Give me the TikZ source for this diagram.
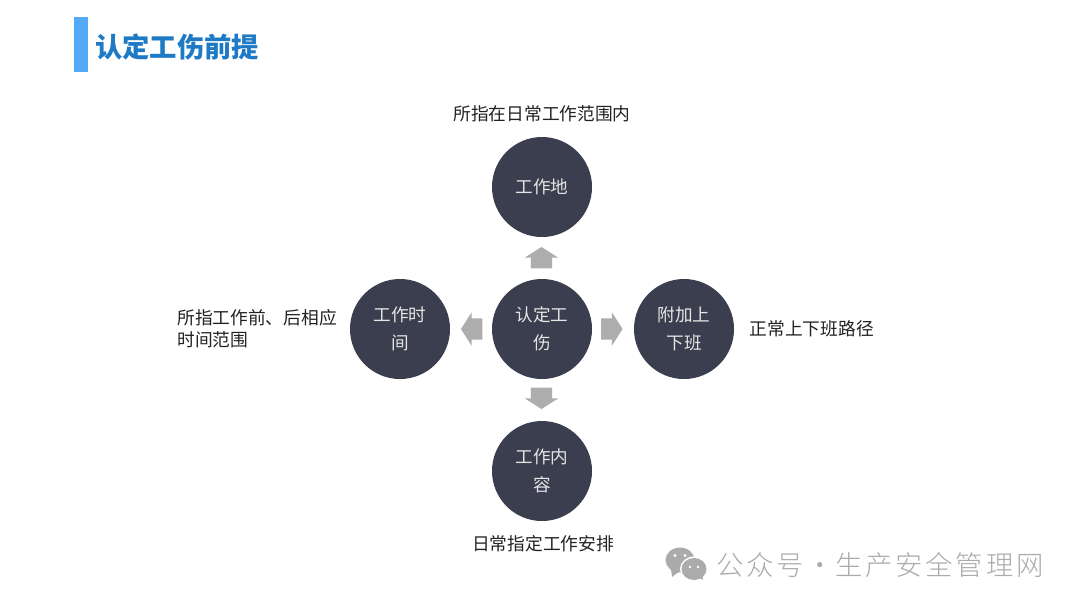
\documentclass[tikz,border=0pt]{standalone}
\usepackage{fontspec}
\usetikzlibrary{shapes.arrows}
\setmainfont{Noto Sans CJK SC}
\newfontfamily\wmfont[LetterSpace=10]{Noto Sans CJK SC Light}
\definecolor{circlefill}{HTML}{3B3E4E}
\definecolor{titleblue}{HTML}{1F7AC6}
\definecolor{barblue}{HTML}{52A9F6}
\definecolor{arrowgrey}{HTML}{ADADAD}
\definecolor{labeltext}{HTML}{222222}
\definecolor{wmgrey}{HTML}{ABABAB}
\tikzset{
  x=0.75pt,y=-0.75pt,
  hub/.style={circle,fill=circlefill,draw=none,minimum size=75pt,inner sep=0pt,text=white!90!black,
    align=center,font=\fontsize{13.2pt}{21pt}\selectfont},
  note/.style={inner sep=0pt,text=labeltext,font=\fontsize{13.3pt}{16.5pt}\selectfont},
  blockarrow/.style={single arrow,fill=arrowgrey,draw=none,inner sep=0pt,
    minimum height=16pt,minimum width=24.5pt,single arrow head extend=4.5pt,
    single arrow tip angle=115},
}
\newcommand{\shaftwidth}{\rule{0pt}{15.5pt}}
\begin{document}
\begin{tikzpicture}
\useasboundingbox (0,0) rectangle (1080,608);
\fill[white] (0,0) rectangle (1080,608);
\fill[barblue] (74,17) rectangle (88,72);
\node[inner sep=0pt,text=titleblue,font=\fontsize{20.5pt}{24pt}\selectfont\bfseries] (title) at (177,47) {认定工伤前提};
% circles
\node[hub] (center) at (542,329) {认定工\\伤};
\node[hub] (top) at (542,187) {工作地};
\node[hub] (left) at (400,329) {工作时\\间};
\node[hub] (right) at (684,329) {附加上\\下班};
\node[hub] (bottom) at (542,471) {工作内\\容};
% arrows
\node[blockarrow,rotate=90] (aup) at (541.5,261) {\shaftwidth};
\node[blockarrow,rotate=-90] (adown) at (541.5,395) {\shaftwidth};
\node[blockarrow,rotate=180] (aleft) at (475,329) {\shaftwidth};
\node[blockarrow] (aright) at (608.5,329) {\shaftwidth};
% labels
\node[note] (ltop) at (542,114) {所指在日常工作范围内};
\node[note,anchor=west] (lright) at (749.5,329) {正常上下班路径};
\node[note,anchor=west,align=left] (lleft) at (177,329) {所指工作前、后相应\\时间范围};
\node[note] (lbottom) at (543,544) {日常指定工作安排};
% watermark icon
\fill[wmgrey] (680,560) ellipse [x radius=14.5,y radius=12.5];
\fill[wmgrey] (671,569) -- (672,577) -- (680,571) -- cycle;
\fill[white] (694,569) ellipse [x radius=14,y radius=12.5];
\fill[wmgrey] (694,569) ellipse [x radius=12.5,y radius=11];
\fill[wmgrey] (698,577) -- (703,580) -- (702,574) -- cycle;
\fill[white] (675,555.5) circle (1.6) (685,555.5) circle (1.6) (690,567) circle (1.4) (698,567) circle (1.4);
\node[inner sep=0pt,anchor=west,text=wmgrey,font=\fontsize{20.5pt}{24pt}\wmfont] (wm) at (716,565) {公众号\makebox[24pt]{·}生产安全管理网};
\end{tikzpicture}
\end{document}
